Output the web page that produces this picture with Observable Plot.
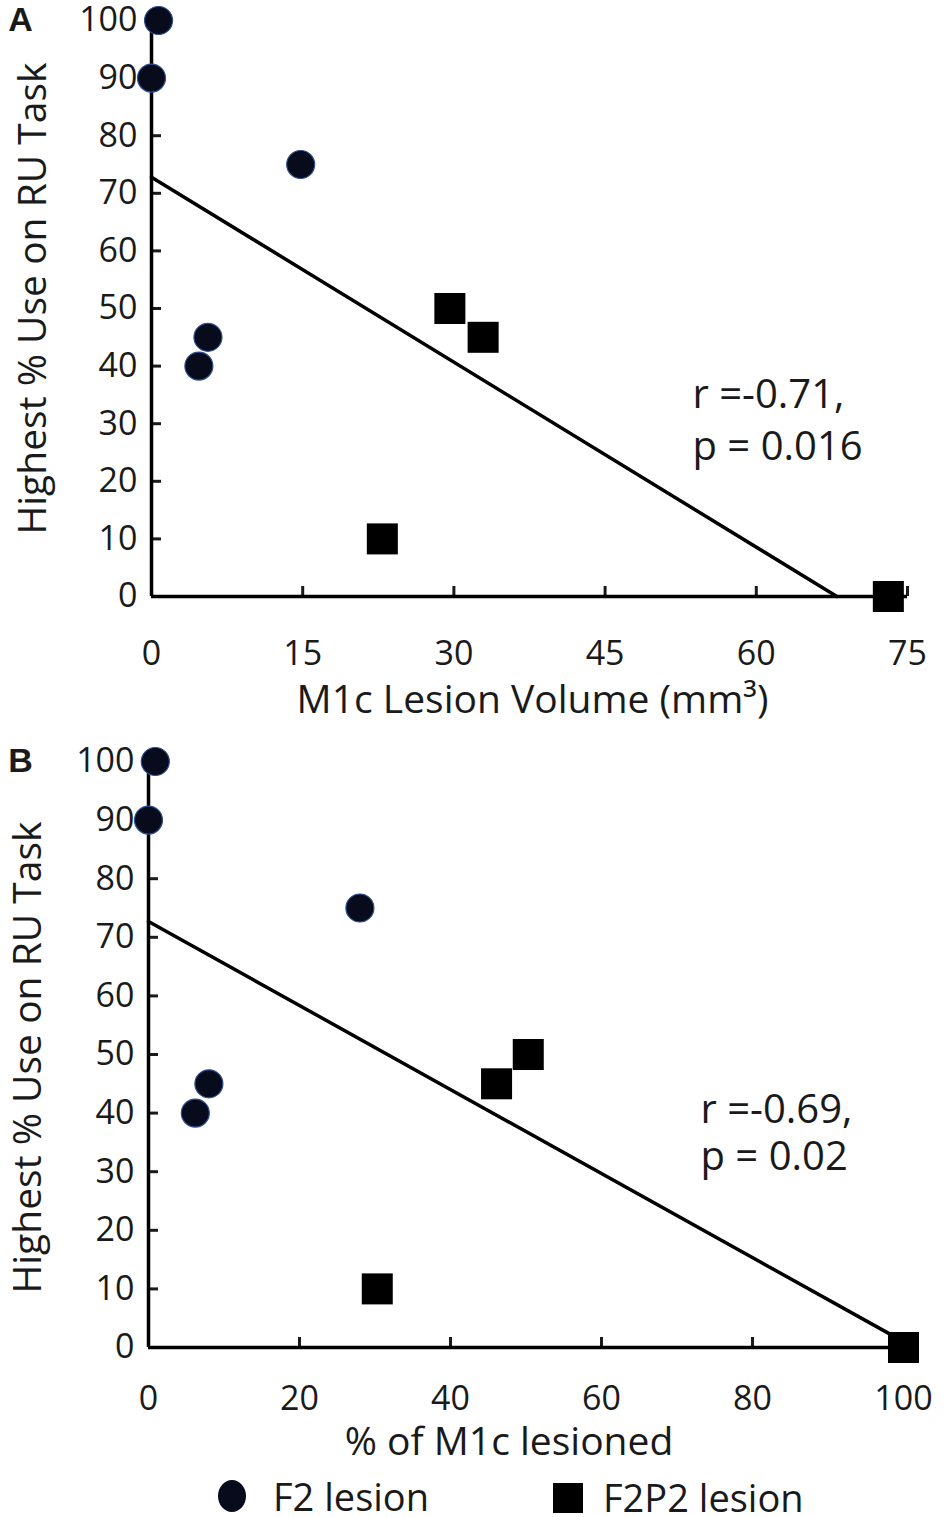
<!DOCTYPE html>
<html>
<head>
<meta charset="utf-8">
<script src="https://cdn.jsdelivr.net/npm/d3@7"></script>
<script src="https://cdn.jsdelivr.net/npm/@observablehq/plot@0.6"></script>
<style>
  html, body { margin: 0; padding: 0; background: #fff; }
  #wrap { width: 950px; font-family: "Open Sans", sans-serif; color: #1a1a1a; }
  #legend { position: relative; height: 52px; font-size: 38px; }
  .lg { position: absolute; white-space: nowrap; }
</style>
</head>
<body>
<div id="wrap">
  <div id="a"></div>
  <div id="b"></div>
  <div id="legend"></div>
</div>
<script>
// ---------- data ----------
const yLabel = "Highest % Use on RU Task";
const yTicks = [0, 10, 20, 30, 40, 50, 60, 70, 80, 90, 100];

// Panel A: M1c lesion volume (mm3)
const aXTicks = [0, 15, 30, 45, 60, 75];
const aF2Volume = [0.7, 0, 14.8, 5.6, 4.7];
const aF2Use = [100, 90, 75, 45, 40];
const aF2P2Volume = [29.6, 32.9, 22.9, 73.1];
const aF2P2Use = [50, 45, 10, 0];
const aFitX = [0, 68];
const aFitY = [72.8, 0];
const aStats = ["r =-0.71,", "p = 0.016"];

// Panel B: % of M1c lesioned
const bXTicks = [0, 20, 40, 60, 80, 100];
const bF2Pct = [0.9, 0, 28, 8, 6.2];
const bF2Use = [100, 90, 75, 45, 40];
const bF2P2Pct = [50.3, 46.1, 30.3, 100];
const bF2P2Use = [50, 45, 10, 0];
const bFitX = [0, 100];
const bFitY = [72.7, 1];
const bStats = ["r =-0.69,", "p = 0.02"];

const legendItems = ["F2 lesion", "F2P2 lesion"];

// ---------- helpers ----------
const pts = (xs, ys) => xs.map((x, i) => ({x, y: ys[i]}));
const CIRCLE_FILL = "#070b1c";
const CIRCLE_STROKE = "#2f4f8f";
const TICK_FS = 34, TITLE_FS = 39, STAT_FS = 40;

function panel({letter, xTicks, xDomain, xLabel, f2, f2p2, fit, stats, layout}) {
  const L = layout;
  return Plot.plot({
    width: 950,
    height: L.height,
    marginLeft: L.ml, marginRight: L.mr, marginTop: L.mt, marginBottom: L.mb,
    style: {fontFamily: "'Open Sans', sans-serif", fontSize: TICK_FS + "px", color: "#1a1a1a", background: "white", overflow: "visible"},
    x: {domain: xDomain, ticks: xTicks},
    y: {domain: [0, 100], ticks: yTicks},
    marks: [
      Plot.axisX(xTicks, {tickSize: -10, tickPadding: L.xPad, strokeWidth: 3, fontSize: TICK_FS, label: null}),
      Plot.axisY(yTicks, {tickSize: -10, tickPadding: 24, strokeWidth: 3, fontSize: TICK_FS, label: null}),
      Plot.ruleX([0], {stroke: "black", strokeWidth: 3.5}),
      Plot.ruleY([0], {stroke: "black", strokeWidth: 3.5}),
      Plot.line(fit, {x: "x", y: "y", stroke: "black", strokeWidth: 3.5}),
      Plot.dot(f2, {x: "x", y: "y", r: 14, fill: CIRCLE_FILL, stroke: CIRCLE_STROKE, strokeWidth: 1.2}),
      Plot.dot(f2p2, {x: "x", y: "y", r: 17.5, symbol: "square", fill: "black"}),
      Plot.text([stats[0]], {frameAnchor: "top-left", dx: L.sdx, dy: L.sdy1, textAnchor: "start", lineAnchor: "middle", fontSize: STAT_FS, text: d => d}),
      Plot.text([stats[1]], {frameAnchor: "top-left", dx: L.sdx, dy: L.sdy2, textAnchor: "start", lineAnchor: "middle", fontSize: STAT_FS, text: d => d}),
      Plot.text([yLabel], {frameAnchor: "left", dx: L.ylx, dy: L.yly, rotate: -90, textAnchor: "middle", lineAnchor: "middle", fontSize: TITLE_FS, text: d => d}),
      Plot.text([xLabel], {frameAnchor: "bottom", dx: L.xlx, dy: L.xly, textAnchor: "middle", lineAnchor: "middle", fontSize: TITLE_FS, text: d => d}),
      Plot.text([letter], {frameAnchor: "top-left", dx: L.ldx, dy: 0, textAnchor: "middle", lineAnchor: "middle", fontWeight: "bold", fontSize: 34, fontFamily: "'Liberation Sans', Arial, sans-serif", text: d => d})
    ]
  });
}

const plotA = panel({
  letter: "A",
  xTicks: aXTicks, xDomain: [0, 75],
  xLabel: "M1c Lesion Volume (mm³)",
  f2: pts(aF2Volume, aF2Use), f2p2: pts(aF2P2Volume, aF2P2Use),
  fit: pts(aFitX, aFitY), stats: aStats,
  layout: {height: 745, ml: 151, mr: 43, mt: 20, mb: 149, xPad: 54,
           sdx: 541, sdy1: 375, sdy2: 427, ylx: -118, yly: -10, xlx: 3, xly: 104, ldx: -131}
});

const plotB = panel({
  letter: "B",
  xTicks: bXTicks, xDomain: [0, 100],
  xLabel: "% of M1c lesioned",
  f2: pts(bF2Pct, bF2Use), f2p2: pts(bF2P2Pct, bF2P2Use),
  fit: pts(bFitX, bFitY), stats: bStats,
  layout: {height: 720, ml: 148, mr: 47, mt: 16, mb: 118, xPad: 48,
           sdx: 552, sdy1: 349, sdy2: 396, ylx: -120, yly: 3, xlx: -17, xly: 95, ldx: -128}
});

document.getElementById("a").appendChild(plotA);
document.getElementById("b").appendChild(plotB);

// legend
const lg = document.getElementById("legend");
lg.innerHTML = `
  <div class="lg" style="left:218px;top:15px;width:28px;height:32px;border-radius:50%;background:${CIRCLE_FILL};"></div>
  <div class="lg" style="left:273px;top:13px;line-height:36px;">${legendItems[0]}</div>
  <div class="lg" style="left:553px;top:18px;width:30px;height:30px;background:black;"></div>
  <div class="lg" style="left:603px;top:14px;line-height:36px;">${legendItems[1]}</div>
`;
</script>
</body>
</html>
